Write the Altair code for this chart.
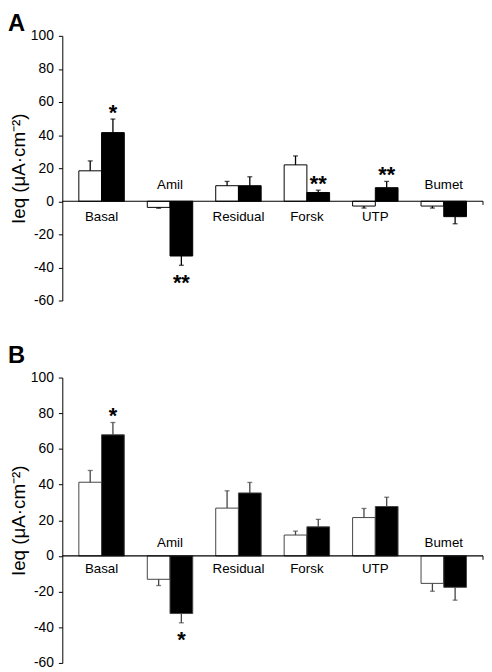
import altair as alt
import pandas as pd

FONT = "Liberation Sans"

categories = ["Basal", "Amil", "Residual", "Forsk", "UTP", "Bumet"]
series = ["Open", "Filled"]
y_ticks = [-60, -40, -20, 0, 20, 40, 60, 80, 100]

# Panel A
a_open = [18.4, -3.7, 9.4, 22.0, -2.9, -2.9]
a_open_err = [6.0, 0.5, 2.6, 5.4, 1.2, 1.2]
a_filled = [41.5, -33.1, 9.4, 5.3, 8.2, -9.3]
a_filled_err = [8.2, 5.6, 5.4, 1.4, 3.8, 4.3]
a_open_sig = ["", "", "", "", "", ""]
a_filled_sig = ["*", "**", "", "**", "**", ""]

# Panel B
b_open = [41.3, -13.1, 26.8, 11.7, 21.5, -15.4]
b_open_err = [6.6, 3.5, 9.7, 2.2, 5.1, 4.4]
b_filled = [67.9, -32.3, 35.3, 16.3, 27.7, -17.6]
b_filled_err = [6.9, 5.2, 5.9, 4.2, 5.2, 7.2]
b_open_sig = ["", "", "", "", "", ""]
b_filled_sig = ["*", "*", "", "", "", ""]

y_title = "Ieq (μA·cm⁻²)"


def panel(letter, opn, opn_err, fil, fil_err, opn_sig, fil_sig, height, stroke, lab_dy, letter_y):
    rows = []
    for i, c in enumerate(categories):
        for s, v, e, g in ((series[0], opn[i], opn_err[i], opn_sig[i]),
                           (series[1], fil[i], fil_err[i], fil_sig[i])):
            sign = 1 if v >= 0 else -1
            rows.append(dict(cat=c, series=s, value=v, base=0, end=v + sign * e, sig=g,
                             pos=bool(v >= 0)))
    df = pd.DataFrame(rows)
    labels = pd.DataFrame({"cat": categories, "base": [0] * len(categories),
                           "above": [bool(max(a, b) < 0) for a, b in zip(opn, fil)]})

    yaxis = alt.Axis(values=y_ticks, grid=False, domainColor="black", domainWidth=1,
                     tickColor="black", tickSize=4, tickWidth=1,
                     labelFont=FONT, labelFontSize=14, labelColor="black", labelPadding=5,
                     labelOverlap=False, labelExpr="datum.value + ''",
                     title=y_title, titleFont=FONT, titleFontSize=19, titleFontWeight="normal",
                     titleColor="black", titlePadding=2)
    yscale = alt.Scale(domain=[-60, 100], nice=False, zero=False)

    def Y(field):
        return alt.Y(field, type="quantitative", scale=yscale, axis=yaxis)

    x = alt.X("cat:N", sort=categories, axis=None,
              scale=alt.Scale(paddingInner=0.336, paddingOuter=0.2415))
    xo = alt.XOffset("series:N", sort=series,
                     scale=alt.Scale(domain=series, paddingInner=0, paddingOuter=0))

    base = alt.Chart(df)
    bars = base.mark_bar(stroke=stroke, strokeWidth=1).encode(
        x=x, xOffset=xo, y=Y("value"), y2="base:Q",
        fill=alt.Fill("series:N", scale=alt.Scale(domain=series, range=["white", "black"]), legend=None),
    )
    err = base.mark_rule(color=stroke, strokeWidth=1.3).encode(
        x=x, xOffset=xo, y=Y("value"), y2="end:Q",
    )
    caps = base.mark_tick(color=stroke, size=5, thickness=1.3, orient="horizontal").encode(
        x=x, xOffset=xo, y=Y("end"),
    )
    zero = alt.Chart(labels).transform_filter("datum.cat == 'Basal'").mark_rule(
        color="black", strokeWidth=1.2
    ).encode(x=alt.value(0), x2=alt.value("width"), y=Y("base"))
    endtick = alt.Chart(pd.DataFrame({"v": [0], "v2": [-2.2]})).mark_rule(color="black", strokeWidth=1).encode(
        x=alt.value("width"), y=Y("v"), y2="v2:Q",
    )
    lab_base = alt.Chart(labels)
    lab_above = lab_base.transform_filter("datum.above").mark_text(
        font=FONT, fontSize=13.5, color="black", baseline="middle", dy=-lab_dy
    ).encode(x=x, y=Y("base"), text="cat:N")
    lab_below = lab_base.transform_filter("!datum.above").mark_text(
        font=FONT, fontSize=13.5, color="black", baseline="middle", dy=lab_dy
    ).encode(x=x, y=Y("base"), text="cat:N")

    stars_pos = base.transform_filter("datum.sig != '' && datum.pos").mark_text(
        font=FONT, fontSize=22, fontWeight="bold", color="black", baseline="alphabetic", dy=1
    ).encode(x=x, xOffset=xo, y=Y("end"), text="sig:N")
    stars_neg = base.transform_filter("datum.sig != '' && !datum.pos").mark_text(
        font=FONT, fontSize=22, fontWeight="bold", color="black", baseline="alphabetic", dy=25
    ).encode(x=x, xOffset=xo, y=Y("end"), text="sig:N")

    let = alt.Chart(pd.DataFrame({"t": [letter]})).mark_text(
        font=FONT, fontSize=24, fontWeight="bold", color="black", align="left", baseline="alphabetic"
    ).encode(x=alt.value(-55), y=alt.value(letter_y), text="t:N")

    return alt.layer(bars, err, caps, zero, endtick, lab_above, lab_below,
                     stars_pos, stars_neg, let).properties(width=426, height=height)


pa = panel("A", a_open, a_open_err, a_filled, a_filled_err, a_open_sig, a_filled_sig,
           268, "black", 16, -5)
pb = panel("B", b_open, b_open_err, b_filled, b_filled_err, b_open_sig, b_filled_sig,
           289, "#444", 13, -15)

chart = alt.vconcat(pa, pb, spacing=37).properties(padding=0).configure_view(stroke=None)

chart.save("out.html", embed_options={"renderer": "svg", "actions": False})
